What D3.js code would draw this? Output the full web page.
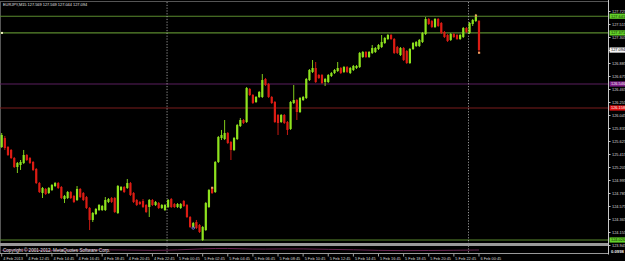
<!DOCTYPE html>
<html><head><meta charset="utf-8">
<script src="https://cdn.jsdelivr.net/npm/d3@7"></script>
<style>html,body{margin:0;padding:0;background:#000;}svg{display:block;}</style>
</head><body>
<script>
// ---- DATA ----
const symbol = "EURJPY,M15";
const headerValues = ["127.569","127.569","127.044","127.094"];
const open = [
125.528,125.673,125.528,125.480,125.350,125.205,125.237,125.270,125.399,125.350,
125.286,125.173,124.946,124.785,124.850,124.785,124.833,124.898,124.946,124.882,
124.688,124.704,124.801,124.737,124.672,124.850,124.785,124.720,124.543,124.349,
124.446,124.510,124.510,124.510,124.640,124.704,124.704,124.462,124.833,124.882,
124.866,124.946,124.785,124.672,124.640,124.656,124.591,124.559,124.672,124.591,
124.623,124.543,124.510,124.559,124.688,124.607,124.559,124.543,124.656,124.591,
124.397,124.236,124.317,124.268,124.026,124.187,124.559,124.866,124.801,125.286,
125.673,125.657,125.754,125.609,125.480,125.657,125.867,125.964,125.932,126.465,
126.368,126.255,126.336,126.336,126.627,126.546,126.336,126.255,126.045,125.932,
126.045,125.932,125.819,126.239,126.287,126.093,126.287,126.320,126.610,126.740,
126.804,126.691,126.691,126.578,126.578,126.675,126.723,126.756,126.804,126.740,
126.820,126.723,126.772,126.804,126.820,126.982,127.063,126.982,127.047,127.063,
127.111,127.143,127.208,127.273,127.337,127.273,127.143,127.014,127.127,127.079,
126.885,127.111,127.160,127.160,127.224,127.353,127.596,127.563,127.467,127.596,
127.531,127.386,127.337,127.257,127.353,127.337,127.273,127.305,127.450,127.370,
127.515,127.563,127.569];
const close = [
125.722,125.512,125.399,125.350,125.205,125.270,125.286,125.399,125.318,125.270,
125.157,124.946,124.801,124.866,124.769,124.866,124.914,124.946,124.866,124.704,
124.737,124.801,124.704,124.640,124.850,124.720,124.672,124.543,124.349,124.462,
124.527,124.591,124.575,124.672,124.688,124.640,124.478,124.898,124.882,124.801,
124.946,124.753,124.640,124.591,124.607,124.559,124.478,124.672,124.591,124.640,
124.543,124.591,124.591,124.672,124.559,124.559,124.607,124.607,124.575,124.397,
124.236,124.300,124.220,124.155,124.236,124.623,124.833,124.785,125.286,125.690,
125.722,125.754,125.593,125.480,125.673,125.883,125.964,125.916,126.481,126.368,
126.239,126.336,126.417,126.610,126.530,126.336,126.239,125.932,125.916,126.045,
125.916,125.803,126.255,126.287,126.093,126.320,126.336,126.627,126.772,126.804,
126.578,126.643,126.562,126.627,126.691,126.723,126.772,126.804,126.723,126.820,
126.740,126.804,126.837,126.837,127.047,127.063,126.982,127.063,127.127,127.127,
127.176,127.224,127.289,127.337,127.273,127.047,127.047,127.127,126.933,126.885,
127.111,127.208,127.224,127.257,127.370,127.596,127.515,127.467,127.596,127.483,
127.370,127.305,127.240,127.353,127.305,127.273,127.337,127.450,127.386,127.531,
127.580,127.628,127.094];
const high = [
125.754,125.706,125.544,125.496,125.367,125.286,125.318,125.480,125.415,125.367,
125.302,125.189,124.963,124.882,124.866,124.882,124.930,124.963,124.963,124.898,
124.753,124.817,124.817,124.753,124.898,124.866,124.801,124.737,124.559,124.478,
124.543,124.607,124.591,124.720,124.704,124.720,124.720,124.914,124.898,124.898,
125.011,124.963,124.801,124.688,124.656,124.688,124.607,124.688,124.688,124.656,
124.640,124.607,124.607,124.688,124.704,124.623,124.623,124.623,124.672,124.607,
124.413,124.317,124.349,124.284,124.252,124.640,124.850,124.882,125.302,125.706,
125.803,125.964,125.770,125.625,125.690,125.900,125.997,125.980,126.497,126.481,
126.384,126.352,126.433,126.707,126.643,126.562,126.352,126.271,126.061,126.061,
126.061,125.948,126.271,126.530,126.303,126.336,126.352,126.643,126.788,126.933,
126.901,126.707,126.707,126.643,126.707,126.740,126.788,126.901,126.820,126.837,
126.837,126.820,126.853,126.853,127.063,127.079,127.079,127.079,127.176,127.143,
127.192,127.337,127.305,127.353,127.353,127.289,127.160,127.143,127.143,127.095,
127.127,127.224,127.240,127.273,127.386,127.628,127.612,127.580,127.612,127.612,
127.547,127.402,127.353,127.370,127.370,127.353,127.353,127.467,127.467,127.547,
127.596,127.677,127.569];
const low = [
125.512,125.480,125.383,125.334,125.189,125.108,125.157,125.253,125.302,125.253,
125.140,124.930,124.785,124.704,124.753,124.769,124.817,124.882,124.850,124.688,
124.623,124.688,124.688,124.623,124.656,124.704,124.656,124.527,124.187,124.317,
124.430,124.494,124.494,124.494,124.623,124.623,124.462,124.446,124.817,124.785,
124.850,124.737,124.623,124.575,124.591,124.543,124.462,124.397,124.575,124.575,
124.527,124.527,124.494,124.543,124.543,124.543,124.543,124.527,124.559,124.381,
124.220,124.220,124.203,124.139,124.010,124.171,124.543,124.769,124.785,125.270,
125.641,125.641,125.577,125.318,125.463,125.641,125.851,125.900,125.916,126.352,
126.223,126.239,126.320,126.320,126.513,126.320,126.223,125.916,125.722,125.916,
125.900,125.722,125.803,126.223,125.964,126.077,126.271,126.303,126.594,126.723,
126.562,126.627,126.546,126.513,126.562,126.659,126.707,126.740,126.707,126.723,
126.723,126.707,126.756,126.788,126.804,126.966,126.966,126.966,127.030,127.047,
127.095,127.127,127.192,127.257,127.257,127.030,127.030,126.998,126.917,126.869,
126.869,127.095,127.143,127.143,127.208,127.337,127.499,127.450,127.450,127.467,
127.353,127.289,127.224,127.240,127.289,127.257,127.257,127.289,127.370,127.353,
127.483,127.547,127.044];

const priceTicks = [127.725,127.515,127.305,127.095,126.885,126.675,126.465,126.255,126.045,125.835,125.625,125.415,125.205,124.995,124.785,124.575,124.365,124.155,123.945];
const timeLabels = ["4 Feb 2013","4 Feb 12:45","4 Feb 14:45","4 Feb 16:45","4 Feb 18:45","4 Feb 20:45","4 Feb 22:45","5 Feb 00:45","5 Feb 02:45","5 Feb 04:45","5 Feb 06:45","5 Feb 08:45","5 Feb 10:45","5 Feb 12:45","5 Feb 14:45","5 Feb 16:45","5 Feb 18:45","5 Feb 20:45","5 Feb 22:45","6 Feb 00:45"];
const timeLabelBars = [0,8,16,24,32,40,48,56,64,72,80,88,96,104,112,120,128,136,144,152];
const daySeparatorBars = [53,149];
const levelPrices = [127.641,127.371,126.546,126.158,124.026];
const levelNames  = ["127.641","127.371","126.546","126.158","124.026"];
const levelKinds  = ["green","green","purple","red","green"];
const currentPrice = 127.094;
const markerBars = [61,67,151,152];
const markerPrices = [124.220,124.870,127.650,127.050];
const markerKinds = ["blue","orange","orange","orange"];
const indicatorBars = [0,8,16,24,32,40,48,56,64,72,80,88,96,104,112,120,128,136,144,152];
const indicatorValues = [0.45,0.5,0.42,0.48,0.55,0.5,0.42,0.5,0.72,0.8,0.62,0.68,0.7,0.6,0.55,0.42,0.38,0.42,0.45,0.5];

// ---- DRAW ----
const W = 625, H = 261;
const svg = d3.select("body").append("svg").attr("width", W).attr("height", H);
svg.append("rect").attr("width", W).attr("height", H).attr("fill", "#000");

const axisX = 608;
const y = d3.scaleLinear().domain([124.155, 127.725]).range([232, 11]);
const x = d3.scaleLinear().domain([0, 152]).range([1.7, 1.7 + 3.14 * 152]);
const yInd = d3.scaleLinear().domain([0, 1]).range([253, 247]);
const font = "'Liberation Sans', Arial, sans-serif";
const colors = {green:"#5a8a2e", purple:"#5a1f5e", red:"#7a1c1c"};
const labelFill = {green:"#62d12a", purple:"#7f1c88", red:"#e01010"};

// frame
svg.append("line").attr("x1",0).attr("x2",axisX).attr("y1",1.5).attr("y2",1.5).attr("stroke","#555").attr("stroke-width",1);
svg.append("line").attr("x1",0.5).attr("x2",0.5).attr("y1",1).attr("y2",254).attr("stroke","#555").attr("stroke-width",1);

// level lines
levelPrices.forEach((p,i)=>{
  svg.append("line").attr("x1",0).attr("x2",axisX).attr("y1",y(p)).attr("y2",y(p))
    .attr("stroke",colors[levelKinds[i]]).attr("stroke-width",1.1);
});
svg.append("rect").attr("x",1).attr("y",y(levelPrices[1])-1).attr("width",2).attr("height",2).attr("fill","#f0f0c0");

// day separators
daySeparatorBars.forEach(b=>{
  svg.append("line").attr("x1",x(b-0.5)+0.5).attr("x2",x(b-0.5)+0.5).attr("y1",2).attr("y2",254)
    .attr("stroke","#bdbdbd").attr("stroke-width",0.8).attr("stroke-dasharray","1.2,1.6");
});

// candles
const idx = d3.range(open.length);
const up = i => close[i] >= open[i];
const gCol = "#8ee21e", rCol = "#dc1c14";
svg.append("g").selectAll("line").data(idx).join("line")
  .attr("x1", i=>x(i)).attr("x2", i=>x(i))
  .attr("y1", i=>y(high[i])).attr("y2", i=>y(low[i]))
  .attr("stroke", i=> up(i)? gCol : rCol).attr("stroke-width",0.9);
svg.append("g").selectAll("rect").data(idx).join("rect")
  .attr("x", i=>x(i)-1.1).attr("width",2.2)
  .attr("y", i=>y(Math.max(open[i],close[i])))
  .attr("height", i=>Math.max(1, Math.abs(y(open[i])-y(close[i]))))
  .attr("fill", i=> up(i)? gCol : rCol);

// markers
markerBars.forEach((b,i)=>{
  if (markerKinds[i]==="blue") {
    svg.append("circle").attr("cx",x(b)).attr("cy",y(markerPrices[i])).attr("r",1.3)
      .attr("fill","none").attr("stroke","#7c7cff").attr("stroke-width",0.8);
  } else {
    svg.append("rect").attr("x",x(b)-1).attr("y",y(markerPrices[i])-1).attr("width",2.2).attr("height",2)
      .attr("fill","#f0a060");
  }
});

// separator between main window and indicator window
svg.append("rect").attr("x",0).attr("y",243).attr("width",axisX).attr("height",3).attr("fill","#9a9a9a");
svg.append("line").attr("x1",0).attr("x2",axisX).attr("y1",253.5).attr("y2",253.5).attr("stroke","#9a9a9a").attr("stroke-width",1);

// indicator line
svg.append("path").datum(indicatorBars.map((b,i)=>[x(b), yInd(indicatorValues[i])]))
  .attr("d", d3.line().curve(d3.curveBasis))
  .attr("fill","none").attr("stroke","#7a2a5e").attr("stroke-width",0.9);

// indicator window text
svg.append("text").attr("x",3).attr("y",252.3).attr("font-family",font).attr("font-size",4.6)
  .attr("fill","#e8e8e8").text("Copyright © 2001-2012, MetaQuotes Software Corp.");

// header
svg.append("text").attr("x",3).attr("y",6).attr("font-family",font).attr("font-size",3.9)
  .attr("fill","#e0e0e0").text(symbol + " " + headerValues.join(" "));

// price axis
svg.append("line").attr("x1",axisX+0.5).attr("x2",axisX+0.5).attr("y1",0).attr("y2",254.5).attr("stroke","#c8c8c8").attr("stroke-width",1);
const ax = svg.append("g").attr("transform",`translate(${axisX+0.5},0)`)
  .call(d3.axisRight(y).tickValues(priceTicks).tickFormat(d3.format(".3f")).tickSize(2).tickPadding(1.5));
ax.select(".domain").remove();
ax.selectAll("line").attr("stroke","#c8c8c8");
ax.selectAll("text").attr("fill","#d8d8d8").attr("font-size",3.9).attr("font-family",font);

// level labels on axis
function axisLabel(p, txt, fill, tcol) {
  svg.append("rect").attr("x",axisX+1.5).attr("y",y(p)-2.6).attr("width",W-axisX-1.5).attr("height",5.2).attr("fill",fill);
  svg.append("text").attr("x",axisX+3).attr("y",y(p)+1.4).attr("font-family",font).attr("font-size",3.9)
    .attr("fill",tcol).text(txt);
}
levelPrices.forEach((p,i)=> axisLabel(p, levelNames[i], labelFill[levelKinds[i]], levelKinds[i]==="green" ? "#102000" : "#f0f0f0"));
axisLabel(currentPrice, d3.format(".3f")(currentPrice), "#f4f4f4", "#000");
svg.append("text").attr("x",axisX+3).attr("y",252.5).attr("font-family",font).attr("font-size",4.2)
  .attr("font-weight","bold").attr("fill","#f0f0f0").text("0.0998");

// time axis
timeLabelBars.forEach((b,i)=>{
  svg.append("line").attr("x1",x(b)).attr("x2",x(b)).attr("y1",254).attr("y2",256.5).attr("stroke","#c8c8c8").attr("stroke-width",0.8);
  svg.append("text").attr("x",x(b)+1.5).attr("y",259.6).attr("font-family",font).attr("font-size",3.9)
    .attr("fill","#d8d8d8").text(timeLabels[i]);
});
</script>
</body></html>
